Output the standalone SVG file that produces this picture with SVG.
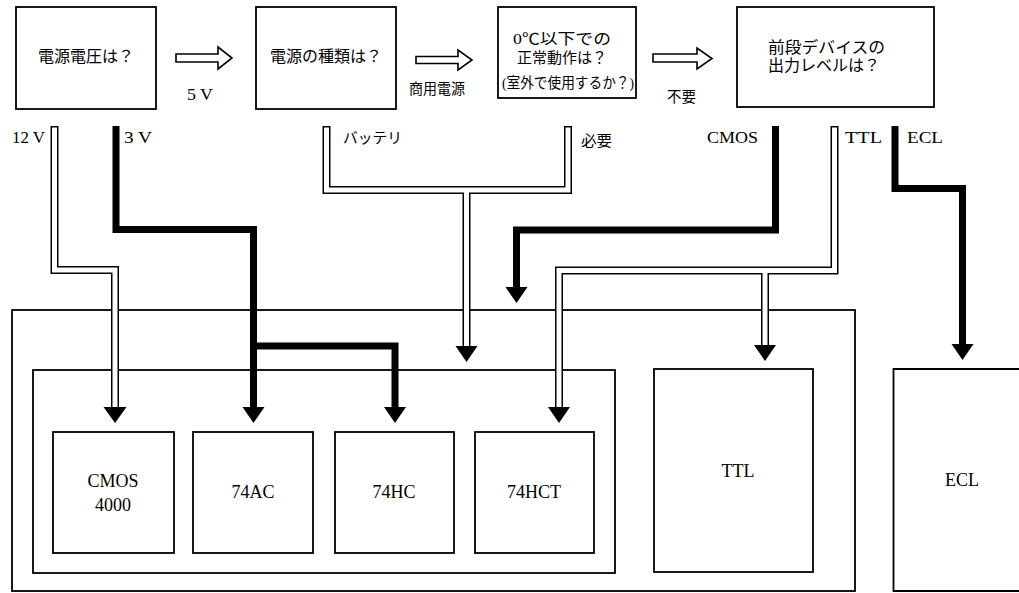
<svg xmlns="http://www.w3.org/2000/svg" width="1019" height="593" viewBox="0 0 1019 593">
<style>
.box{fill:none;stroke:#000;stroke-width:1.8}
.bg{fill:#fff}
.ho{fill:none;stroke:#000;stroke-width:8;stroke-linejoin:miter;stroke-linecap:butt}
.hi{fill:none;stroke:#fff;stroke-width:5;stroke-linejoin:miter;stroke-linecap:butt}
.th{fill:none;stroke:#000;stroke-width:7;stroke-linejoin:miter;stroke-linecap:butt}
.head{fill:#000}
.blk{fill:#fff;stroke:#000;stroke-width:1.6;stroke-linejoin:miter}
.jp{font-family:"Liberation Serif","Noto Sans CJK JP",serif;font-size:16px;fill:#000}
.jps{font-family:"Liberation Serif","Noto Sans CJK JP",serif;font-size:15px;fill:#000}
.en{font-family:"Liberation Serif",serif;font-size:16px;fill:#000}
.chip{font-family:"Liberation Serif",serif;font-size:18px;fill:#000;text-anchor:middle}
.mid{text-anchor:middle}
</style>
<rect class="bg" x="0" y="0" width="1019" height="593"/>

<g id="q-voltage">
<rect class="box" x="16" y="7" width="140" height="102"/>
<text class="jp mid" x="86" y="62">電源電圧は？</text>
</g>
<g id="q-source">
<rect class="box" x="256" y="7" width="140" height="102"/>
<text class="jp mid" x="326" y="62">電源の種類は？</text>
</g>
<g id="q-cold">
<rect class="box" x="498" y="7" width="138" height="91"/>
<text class="jps mid" x="562" y="44" textLength="98" lengthAdjust="spacingAndGlyphs">0℃以下での</text>
<text class="jps mid" x="562" y="63" textLength="90" lengthAdjust="spacingAndGlyphs">正常動作は？</text>
<text class="jps mid" x="568" y="88" textLength="132" lengthAdjust="spacingAndGlyphs">(室外で使用するか？)</text>
</g>
<g id="q-level">
<rect class="box" x="737" y="7" width="197" height="100"/>
<text class="jp" x="768" y="53" textLength="117" lengthAdjust="spacingAndGlyphs">前段デバイスの</text>
<text class="jp" x="768" y="71" textLength="112" lengthAdjust="spacingAndGlyphs">出力レベルは？</text>
</g>

<g id="group-5v">
<rect class="box" x="12" y="310" width="843" height="281"/>
</g>
<g id="group-cmos">
<rect class="box" x="33" y="370" width="582" height="203"/>
</g>
<g id="chip-4000">
<rect class="box" x="53" y="432" width="121" height="121"/>
<text class="chip" x="113" y="487">CMOS</text>
<text class="chip" x="113" y="511">4000</text>
</g>
<g id="chip-74ac">
<rect class="box" x="193" y="432" width="120" height="121"/>
<text class="chip" x="253" y="498">74AC</text>
</g>
<g id="chip-74hc">
<rect class="box" x="335" y="432" width="119" height="121"/>
<text class="chip" x="394" y="498">74HC</text>
</g>
<g id="chip-74hct">
<rect class="box" x="475" y="432" width="119" height="121"/>
<text class="chip" x="534" y="498">74HCT</text>
</g>
<g id="chip-ttl">
<rect class="box" x="654" y="369" width="159" height="203"/>
<text class="chip" x="738" y="477">TTL</text>
</g>
<g id="chip-ecl">
<path class="box" d="M1025,369 H893.5 V591 H1025"/>
<text class="chip" x="962" y="486">ECL</text>
</g>

<g id="connectors">
<polygon class="blk" points="176,54 218,54 218,47 232,58 218,69 218,62 176,62"/>
<polygon class="blk" points="416,56.5 458,56.5 458,50 472,60 458,70 458,63.5 416,63.5"/>
<polygon class="blk" points="653,54 697,54 697,48 712,58.5 697,69 697,62 653,62"/>

<path class="ho" d="M54.5,126 V270 H115 V408"/>
<path class="hi" d="M54.5,127.5 V270 H115 V408"/>

<path class="th" d="M116,126 V229.5 H253.5 V408"/>
<path class="th" d="M253.5,346 H395 V408"/>

<path class="ho" d="M326.5,126 V190 H568 V126"/>
<path class="ho" d="M466.5,190 V347"/>
<path class="hi" d="M326.5,127.5 V190 H568 V127.5"/>
<path class="hi" d="M466.5,190 V347"/>

<path class="th" d="M775.5,126 V230 H516.5 V288"/>

<path class="ho" d="M834.5,126 V270.5 H559 V408"/>
<path class="ho" d="M765,270.5 V346"/>
<path class="hi" d="M834.5,127.5 V270.5 H559 V408"/>
<path class="hi" d="M765,270.5 V346"/>

<path class="th" d="M895,126 V188.5 H962.5 V345"/>

<polygon class="head" points="103.5,407 126.5,407 115,423"/>
<polygon class="head" points="242.5,407 264.5,407 253.5,423"/>
<polygon class="head" points="384,407 406,407 395,423"/>
<polygon class="head" points="548,407 570,407 559,423"/>
<polygon class="head" points="455.5,346 477.5,346 466.5,362"/>
<polygon class="head" points="505.5,287 527.5,287 516.5,303"/>
<polygon class="head" points="754,345 776,345 765,361"/>
<polygon class="head" points="951.5,344 973.5,344 962.5,360"/>
</g>

<g id="labels">
<text class="en" x="187" y="100" textLength="26" lengthAdjust="spacingAndGlyphs">5 V</text>
<text class="jps" x="409" y="94" textLength="56" lengthAdjust="spacingAndGlyphs">商用電源</text>
<text class="jps" x="667" y="102" textLength="29" lengthAdjust="spacingAndGlyphs">不要</text>
<text class="en" x="12" y="143" textLength="33" lengthAdjust="spacingAndGlyphs">12 V</text>
<text class="en" x="124" y="143" textLength="28" lengthAdjust="spacingAndGlyphs">3 V</text>
<text class="jps" x="343" y="143" textLength="59" lengthAdjust="spacingAndGlyphs">バッテリ</text>
<text class="jps" x="581" y="146" textLength="31" lengthAdjust="spacingAndGlyphs">必要</text>
<text class="en" x="707" y="143" textLength="51" lengthAdjust="spacingAndGlyphs">CMOS</text>
<text class="en" x="845" y="143" textLength="37" lengthAdjust="spacingAndGlyphs">TTL</text>
<text class="en" x="907" y="143" textLength="36" lengthAdjust="spacingAndGlyphs">ECL</text>
</g>
</svg>
